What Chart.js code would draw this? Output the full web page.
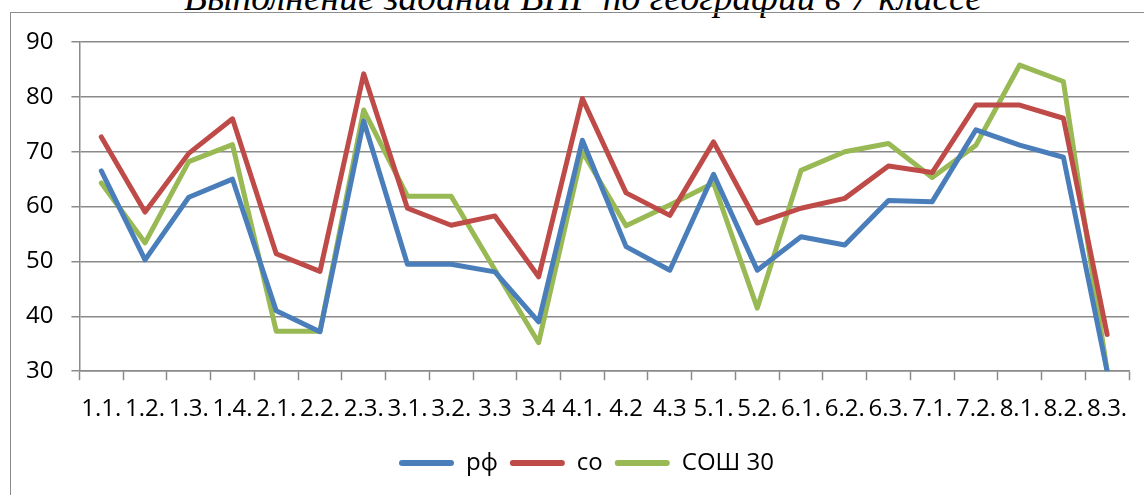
<!DOCTYPE html>
<html>
<head>
<meta charset="utf-8">
<script src="https://cdn.jsdelivr.net/npm/chart.js@4.4.0/dist/chart.umd.min.js"></script>
<style>
  html, body { margin: 0; padding: 0; background: #fff; overflow: hidden; }
  #wrap { position: relative; width: 1144px; height: 495px; overflow: hidden; }
  #title {
    position: absolute; left: 0; width: 1166px; top: -21px;
    font: italic 37.5px "Liberation Serif", "Times New Roman", serif;
    line-height: 37.5px; text-align: center; color: #000; white-space: nowrap;
  }
  #frame {
    position: absolute; left: 10px; top: 12px; width: 1200px; height: 600px;
    border: 1px solid #8c8c8c;
  }
  #chart { position: absolute; left: 0; top: 0; }
</style>
</head>
<body>
<div id="wrap">
  <div id="title">Выполнение заданий ВПР по географии в 7 классе</div>
  <div id="frame"></div>
  <canvas id="chart" width="1144" height="495"></canvas>
</div>
<script>
// task numbers along the x axis
const tasks = ['1.1.', '1.2.', '1.3.', '1.4.', '2.1.', '2.2.', '2.3.', '3.1.', '3.2.', '3.3', '3.4', '4.1.',
    '4.2', '4.3', '5.1.', '5.2.', '6.1.', '6.2.', '6.3.', '7.1.', '7.2.', '8.1.', '8.2.', '8.3.'];

// percent of completion
const rf = [66.5, 50.3, 61.7, 65.0, 41.0, 37.2, 75.6, 49.5, 49.5, 48.1, 39.0, 72.1,
    52.7, 48.4, 65.9, 48.4, 54.5, 53.0, 61.1, 60.9, 74.0, 71.2, 69.0, 30.0];
const so = [72.7, 59.0, 69.7, 76.0, 51.4, 48.2, 84.2, 59.7, 56.6, 58.3, 47.2, 79.7,
    62.5, 58.4, 71.8, 57.0, 59.7, 61.5, 67.4, 66.2, 78.5, 78.5, 76.1, 36.7];
const sosh30 = [64.3, 53.4, 68.2, 71.3, 37.3, 37.3, 77.6, 61.9, 61.9, 48.5, 35.2, 70.0,
    56.5, 60.3, 64.3, 41.5, 66.6, 70.0, 71.5, 65.3, 71.2, 85.8, 82.8, 30.0];

const yMin = 30;
const yMax = 90;
const yStep = 10;

const gridColor = '#8a8a8a';
const tickFont = { family: '"Open Sans", sans-serif', size: 24 };
const legendFont = { family: '"Open Sans", sans-serif', size: 24 };

// legend row sits a little right of centre in the original
const legendShift = {
    id: 'legendShift',
    afterLayout(chart) {
        const lg = chart.legend;
        if (!lg) return;
        lg.left += 18;
        lg.right += 18;
    }
};

function series(label, data, color) {
    return {
        label: label,
        data: data,
        borderColor: color,
        backgroundColor: color,
        borderWidth: 5,
        pointRadius: 0,
        borderJoinStyle: 'round',
        borderCapStyle: 'round',
        tension: 0,
        fill: false
    };
}

new Chart(document.getElementById('chart').getContext('2d'), {
    type: 'line',
    data: {
        labels: tasks,
        datasets: [
            series('рф', rf, '#4a7ebb'),
            series('со', so, '#be4b48'),
            series('СОШ 30', sosh30, '#98b954')
        ]
    },
    plugins: [legendShift],
    options: {
        responsive: false,
        animation: false,
        devicePixelRatio: 1,
        layout: { padding: { left: 8, right: 15, top: 42, bottom: 10 } },
        plugins: {
            title: { display: false },
            tooltip: { enabled: false },
            legend: {
                position: 'bottom',
                labels: {
                    font: legendFont,
                    color: '#000',
                    boxWidth: 55,
                    boxHeight: 6,
                    padding: 12,
                    generateLabels: (chart) => chart.data.datasets.map((ds, i) => ({
                        text: ds.label,
                        fillStyle: ds.borderColor,
                        strokeStyle: ds.borderColor,
                        lineWidth: 0,
                        fontColor: '#000',
                        borderRadius: 3,
                        datasetIndex: i
                    })),
                    useBorderRadius: true,
                    borderRadius: 3
                }
            }
        },
        scales: {
            x: {
                offset: true,
                grid: {
                    offset: true,
                    drawOnChartArea: false,
                    drawTicks: true,
                    tickLength: 9,
                    tickColor: gridColor,
                    tickWidth: 1.5
                },
                border: { display: true, color: gridColor, width: 1.5 },
                ticks: {
                    font: tickFont,
                    color: '#000',
                    maxRotation: 0,
                    minRotation: 0,
                    autoSkip: false,
                    padding: 15
                }
            },
            y: {
                min: yMin,
                max: yMax,
                grid: {
                    color: gridColor,
                    lineWidth: 1.5,
                    drawTicks: true,
                    tickLength: 8
                },
                border: { display: true, color: gridColor, width: 1.5 },
                ticks: {
                    stepSize: yStep,
                    font: tickFont,
                    color: '#000',
                    padding: 18
                }
            }
        }
    }
});
</script>
</body>
</html>
